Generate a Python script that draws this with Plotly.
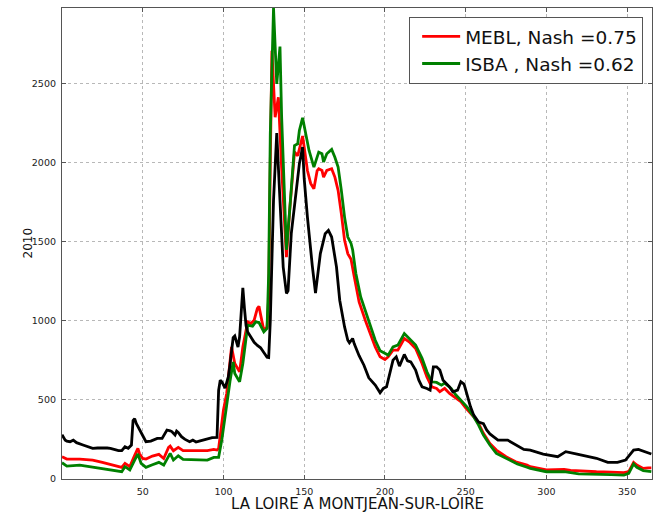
import plotly.graph_objects as go

# ---- data ----
obs_day = [0, 2, 3, 5, 7, 9, 13, 17, 19, 22, 25, 28, 30, 33, 35, 37, 39, 41, 43, 44, 45, 46, 48, 49,
           51, 52, 55, 57, 59, 62, 64, 65, 67, 68, 70, 71, 72, 74, 76, 79, 81, 83, 85, 87, 90, 93,
           96, 97, 98, 99, 101, 103, 104, 106, 107, 109, 110, 112, 113, 114, 115, 117, 119, 121, 123,
           125, 127, 128, 129, 131, 133, 135, 137, 139, 140, 142, 145, 147, 149, 150, 152, 153, 155,
           157, 158, 160, 163, 165, 167, 168, 170, 172, 175, 177, 178, 180, 181, 184, 187, 190, 191,
           194, 197, 199, 201, 203, 205, 207, 209, 212, 214, 216, 219, 221, 223, 226, 228, 230, 232,
           234, 236, 240, 242, 245, 247, 249, 251, 253, 255, 258, 261, 263, 265, 270, 276, 281, 286,
           290, 298, 307, 312, 319, 325, 331, 338, 344, 349, 354, 357, 361, 365]
obs_q = [280, 246, 240, 236, 246, 230, 215, 200, 194, 196, 198, 196, 194, 183, 179, 179, 204, 194, 215,
         370, 382, 352, 315, 289, 250, 236, 240, 250, 257, 257, 290, 310, 305, 300, 278, 303, 295, 268,
         252, 236, 246, 234, 240, 246, 257, 262, 263, 560, 625, 615, 575, 646, 720, 895, 905, 835, 900,
         1209, 1080, 970, 930, 900, 865, 845, 830, 800, 770, 768, 1000, 1763, 2188, 1763, 1341, 1174,
         1190, 1552, 1805, 1994, 2100, 1900, 1657, 1550, 1350, 1177, 1250, 1426, 1552, 1573, 1531,
         1470, 1341, 1131, 962, 878, 862, 889, 855, 780, 720, 640, 630, 594, 545, 573, 583, 668, 752,
         773, 714, 788, 748, 741, 689, 625, 583, 573, 562, 710, 710, 689, 625, 583, 552, 562, 615, 600,
         520, 457, 404, 360, 350, 310, 285, 246, 246, 215, 187, 183, 158, 141, 173, 158, 145, 131, 105,
         105, 120, 183, 187, 173, 158]

mebl_day = [0, 3, 11, 19, 25, 30, 37, 39, 42, 45, 47, 48, 50, 52, 56, 60, 63, 66, 67, 69, 72, 75, 81,
            90, 94, 96, 97, 99, 100, 102, 103, 105, 107, 110, 112, 115, 117, 119, 121, 122, 123, 125,
            127, 128, 129, 130, 132, 134, 136, 139, 141, 144, 146, 149, 150, 152, 154, 156, 158, 159,
            161, 162, 164, 167, 169, 171, 173, 175, 177, 179, 181, 184, 188, 191, 194, 197, 200, 202,
            205, 208, 212, 215, 219, 223, 226, 229, 232, 234, 237, 240, 243, 247, 250, 255, 258, 261,
            265, 269, 275, 281, 288, 290, 300, 305, 311, 315, 321, 331, 340, 348, 351, 354, 356, 360,
            363, 365]
mebl_q = [141, 126, 126, 120, 105, 93, 74, 99, 78, 150, 194, 160, 130, 126, 145, 156, 130, 200, 208,
          179, 200, 179, 179, 179, 187, 183, 194, 350, 436, 541, 640, 836, 731, 678, 836, 994, 984,
          1005, 1080, 1093, 1040, 941, 962, 1150, 2000, 2710, 2289, 2415, 1973, 1404, 1700, 2070, 2045,
          2170, 2100, 1952, 1870, 1836, 1950, 1963, 1952, 1910, 1952, 1963, 1910, 1826, 1679, 1510,
          1426, 1390, 1280, 1120, 1000, 920, 836, 773, 756, 773, 815, 815, 889, 868, 826, 731, 646,
          583, 573, 552, 573, 541, 520, 489, 450, 394, 352, 289, 225, 183, 141, 109, 88, 78, 57, 57,
          61, 55, 50, 46, 43, 40, 46, 105, 88, 67, 71, 71]

isba_day = [0, 3, 11, 19, 25, 31, 37, 39, 42, 45, 47, 49, 52, 56, 60, 63, 66, 67, 69, 72, 75, 81, 90,
            94, 97, 99, 100, 103, 104, 106, 107, 110, 112, 115, 118, 120, 122, 125, 127, 128, 129, 131,
            133, 135, 136, 138, 139, 141, 144, 146, 147, 149, 150, 153, 156, 159, 161, 162, 164, 167,
            169, 171, 173, 175, 177, 179, 180, 182, 185, 189, 191, 194, 197, 200, 202, 205, 208, 212,
            215, 219, 223, 226, 229, 232, 235, 237, 241, 244, 247, 251, 255, 258, 261, 265, 269, 276,
            282, 288, 290, 300, 311, 320, 331, 340, 348, 351, 354, 356, 360, 365]
isba_q = [103, 82, 88, 74, 67, 57, 46, 78, 57, 120, 158, 99, 74, 90, 105, 88, 150, 162, 120, 147, 124,
          124, 120, 137, 137, 250, 331, 541, 615, 740, 668, 615, 731, 973, 967, 994, 990, 931, 952, 1300,
          2185, 2980, 2500, 2736, 2300, 1763, 1450, 1700, 2110, 2121, 2205, 2285, 2230, 2079, 1973, 2068,
          2058, 2005, 2058, 2085, 2036, 1973, 1826, 1657, 1531, 1490, 1450, 1300, 1152, 1026, 962, 878,
          811, 794, 784, 836, 847, 920, 889, 847, 763, 678, 615, 611, 594, 607, 573, 531, 499, 453, 394,
          341, 278, 215, 162, 124, 95, 74, 67, 46, 46, 32, 32, 28, 25, 36, 95, 74, 53, 46]

x_ticks = [50, 100, 150, 200, 250, 300, 350]
y_ticks = [0, 500, 1000, 1500, 2000, 2500]
legend_names = ["MEBL, Nash =0.75", "ISBA , Nash =0.62"]
x_title = "LA LOIRE A MONTJEAN-SUR-LOIRE"
y_title = "2010"

FONT = "DejaVu Sans"

fig = go.Figure()
fig.add_trace(go.Scatter(x=mebl_day, y=mebl_q, mode="lines", name=legend_names[0],
                         line=dict(color="#ff0000", width=2.8), legendgroup="a"))
fig.add_trace(go.Scatter(x=isba_day, y=isba_q, mode="lines", name=legend_names[1],
                         line=dict(color="#008000", width=2.8), legendgroup="b"))
fig.add_trace(go.Scatter(x=obs_day, y=obs_q, mode="lines", name="obs", showlegend=False,
                         line=dict(color="#000000", width=2.8)))

axis_common = dict(
    showgrid=True, gridcolor="#b8b8b8", griddash="dot", gridwidth=1,
    showline=True, linecolor="#555555", linewidth=1.2, mirror="allticks",
    ticks="inside", ticklen=4, tickcolor="#555555",
    zeroline=False, tickfont=dict(family=FONT, size=9.5, color="#222222"),
)

fig.update_layout(
    width=659, height=515,
    margin=dict(l=62, r=7, t=8, b=36, autoexpand=False),
    paper_bgcolor="white", plot_bgcolor="white",
    font=dict(family=FONT),
    xaxis=dict(range=[0, 365.4], tickvals=x_ticks, ticklabelstandoff=3, **axis_common),
    yaxis=dict(range=[0, 2980], tickvals=y_ticks, ticklabelstandoff=3, **axis_common),
    legend=dict(x=0.985, y=0.981, xanchor="right", yanchor="top",
                bgcolor="white", bordercolor="#555555", borderwidth=1,
                font=dict(family=FONT, size=18.5, color="#111111"),
                tracegroupgap=0, itemwidth=38, indentation=7),
    showlegend=True,
    annotations=[
        dict(text=x_title, xref="paper", yref="paper", x=0.5, y=0, yshift=-25,
             xanchor="center", yanchor="middle", showarrow=False,
             font=dict(family=FONT, size=15, color="#111111")),
        dict(text=y_title, xref="paper", yref="paper", x=0, y=0.5, xshift=-35,
             xanchor="center", yanchor="middle", showarrow=False, textangle=-90,
             font=dict(family=FONT, size=12, color="#111111")),
    ],
)

fig.write_html("out.html", config={"displayModeBar": False},
               post_script="document.body.style.margin='0';")
